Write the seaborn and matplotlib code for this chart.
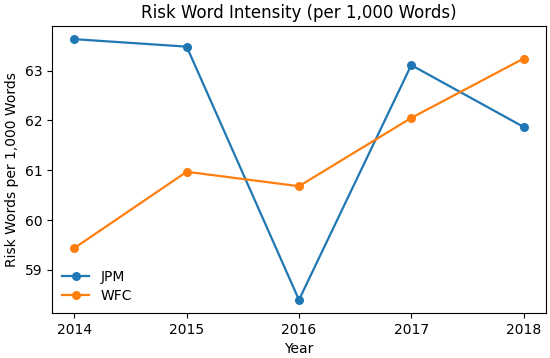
import matplotlib
matplotlib.use("Agg")
import matplotlib.pyplot as plt
import seaborn as sns
import pandas as pd

years = [2014, 2015, 2016, 2017, 2018]
jpm = [63.63, 63.48, 58.40, 63.11, 61.87]
wfc = [59.44, 60.97, 60.68, 62.05, 63.24]

df = pd.DataFrame({
    "Year": years * 2,
    "Value": jpm + wfc,
    "Bank": ["JPM"] * len(years) + ["WFC"] * len(years),
})

fig, ax = plt.subplots(figsize=(5.5, 3.58), dpi=100)
sns.lineplot(data=df, x="Year", y="Value", hue="Bank", marker="o",
             markersize=6.5, markeredgewidth=0, linewidth=1.6,
             palette=["#1f77b4", "#ff7f0e"], ax=ax)
ax.set_xticks(years)
ax.set_title("Risk Word Intensity (per 1,000 Words)")
ax.set_xlabel("Year")
ax.set_ylabel("Risk Words per 1,000 Words")
ax.legend(loc="lower left", frameon=False, title=None, labelspacing=0.35,
          borderaxespad=0.3)
fig.subplots_adjust(left=0.0945, right=0.9927, top=0.927, bottom=0.126)
fig.savefig("out.png", dpi=100)
